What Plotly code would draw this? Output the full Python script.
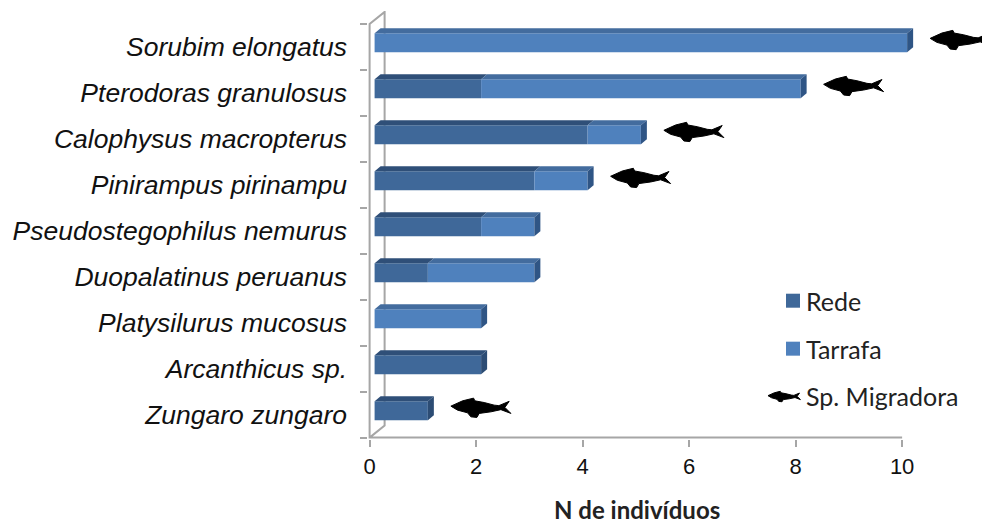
import plotly.graph_objects as go

# Catch per species, listed bottom to top along the y axis
species = ["Zungaro zungaro", "Arcanthicus sp.", "Platysilurus mucosus",
           "Duopalatinus peruanus", "Pseudostegophilus nemurus",
           "Pinirampus pirinampu", "Calophysus macropterus",
           "Pterodoras granulosus", "Sorubim elongatus"]
rede = [1, 2, 0, 1, 2, 3, 4, 2, 0]
tarrafa = [0, 0, 2, 2, 1, 1, 1, 6, 10]
migratory = [True, False, False, False, False, True, True, True, True]
x_ticks = [0, 2, 4, 6, 8, 10]
x_title = "N de indivíduos"
legend_names = ["Rede", "Tarrafa", "Sp. Migradora"]

REDE_FRONT, REDE_TOP, REDE_SIDE = "#3f6899", "#2f4f78", "#2c4c74"
TARRAFA_FRONT, TARRAFA_TOP, TARRAFA_SIDE = "#4f81bd", "#436c9e", "#2f5585"
WALL = "#a6a6a6"

W, H = 989, 525
X0_PX, PX_PER_X = 370.0, 53.2      # pixel of x=0, pixels per unit
Y0_PX, PX_PER_Y = 438.0, 46.0      # pixel of y=0, pixels per row
X_RANGE = [-0.03, 11.5]
Y_RANGE = [-0.03, 9.28]

left = X0_PX + X_RANGE[0] * PX_PER_X
right = X0_PX + X_RANGE[1] * PX_PER_X
bottom = Y0_PX - Y_RANGE[0] * PX_PER_Y
top = Y0_PX - Y_RANGE[1] * PX_PER_Y


def paper_x(px):
    return (px - left) / (right - left)


def paper_y(px):
    return (bottom - px) / (bottom - top)


# Pseudo-3D geometry, expressed in data units
DEPTH_X = 15 / PX_PER_X            # floor depth of the chart box
DEPTH_Y = 12 / PX_PER_Y
BAR_BASE = 5 / PX_PER_X            # front face starts off the front wall
BAR_LIFT = 4 / PX_PER_Y
BAR_H = 19 / PX_PER_Y
FACE_X = 6 / PX_PER_X
FACE_Y = 5 / PX_PER_Y

rows = [i + 0.5 for i in range(len(species))]
bar_y = [r + BAR_LIFT for r in rows]

# Fish silhouette in pixels, snout at the origin
FISH = [(0, 0), (11.7, 5.3), (22.7, 8), (24, 5.3), (33.3, 3.6), (43.3, 1),
        (48, 0.5), (58.3, 4.8), (54, -1.3), (60, -7.3), (50, -3.5), (40, -5.7),
        (28.3, -7.3), (26, -11.3), (20, -10.7), (16.7, -6.7), (6.7, -4)]


def fish_path(scale=1.0, lift=0.0):
    pts = [f"{x * scale:.2f},{y * scale + lift:.2f}" for x, y in FISH]
    return "M" + " L".join(pts) + " Z"


def polygon(points, color):
    path = "M" + " L".join(f"{x:.4f},{y:.4f}" for x, y in points) + " Z"
    return dict(type="path", path=path, xref="x", yref="y", fillcolor=color,
                line=dict(width=0), layer="above")


fig = go.Figure()
fig.add_bar(name=legend_names[0], y=bar_y, x=rede, base=[BAR_BASE] * len(rede),
            orientation="h", width=BAR_H, marker=dict(color=REDE_FRONT, line_width=0))
fig.add_bar(name=legend_names[1], y=bar_y, x=tarrafa,
            base=[BAR_BASE + r for r in rede],
            orientation="h", width=BAR_H, marker=dict(color=TARRAFA_FRONT, line_width=0))

# Chart box behind the bars: floor edge, front wall, slanted corners, back wall
n_rows = len(species)
box_path = (f"M{x_ticks[-1]},0 L0,0 L0,{n_rows} L{DEPTH_X:.4f},{n_rows + DEPTH_Y:.4f} "
            f"L{DEPTH_X:.4f},{DEPTH_Y:.4f} L0,0")
shapes = [dict(type="path", path=box_path, xref="x", yref="y", layer="below",
               line=dict(color=WALL, width=2))]

for y, r, t in zip(bar_y, rede, tarrafa):
    y_top = y + BAR_H / 2
    y_low = y - BAR_H / 2
    x_mid = BAR_BASE + r
    x_end = x_mid + t
    if r:
        shapes.append(polygon([(BAR_BASE, y_top), (x_mid, y_top),
                               (x_mid + FACE_X, y_top + FACE_Y),
                               (BAR_BASE + FACE_X, y_top + FACE_Y)], REDE_TOP))
    if t:
        shapes.append(polygon([(x_mid, y_top), (x_end, y_top),
                               (x_end + FACE_X, y_top + FACE_Y),
                               (x_mid + FACE_X, y_top + FACE_Y)], TARRAFA_TOP))
    side = TARRAFA_SIDE if t else REDE_SIDE
    shapes.append(polygon([(x_end, y_low), (x_end, y_top),
                           (x_end + FACE_X, y_top + FACE_Y),
                           (x_end + FACE_X, y_low + FACE_Y)], side))

# Migratory species get a fish just past the end of their bar
FISH_GAP = 23 / PX_PER_X
for row, r, t, flag in zip(rows, rede, tarrafa, migratory):
    if flag:
        shapes.append(dict(type="path", xref="x", yref="y",
                           xsizemode="pixel", ysizemode="pixel",
                           xanchor=BAR_BASE + r + t + FISH_GAP, yanchor=row,
                           path=fish_path(lift=8.5), fillcolor="#000000",
                           line=dict(width=1, color="#000000"), layer="above"))

# Legend block
LEGEND_TEXT_X = 804
legend_rows = [301, 349, 396]
for y_px, color in zip(legend_rows[:2], [REDE_FRONT, TARRAFA_FRONT]):
    shapes.append(dict(type="rect", xref="paper", yref="paper",
                       x0=paper_x(786), x1=paper_x(800),
                       y0=paper_y(y_px + 7), y1=paper_y(y_px - 7),
                       fillcolor=color, line=dict(width=0), layer="above"))
shapes.append(dict(type="path", xref="paper", yref="paper",
                   xsizemode="pixel", ysizemode="pixel",
                   xanchor=paper_x(768), yanchor=paper_y(legend_rows[2]),
                   path=fish_path(scale=0.54), fillcolor="#000000",
                   line=dict(width=1, color="#000000"), layer="above"))

annotations = [dict(text=name, xref="paper", yref="paper", showarrow=False,
                    x=paper_x(LEGEND_TEXT_X), y=paper_y(y_px),
                    xanchor="left", yanchor="middle",
                    font=dict(family="Lato", size=25, color="#222222"))
               for name, y_px in zip(legend_names, legend_rows)]
annotations.append(dict(text=f"<b>{x_title}</b>", xref="paper", yref="paper",
                        showarrow=False, x=paper_x(637), y=paper_y(510),
                        xanchor="center", yanchor="middle",
                        font=dict(family="Lato", size=24, color="#222222")))

fig.update_layout(
    width=W, height=H, showlegend=False, barmode="overlay",
    paper_bgcolor="white", plot_bgcolor="white",
    margin=dict(l=left, r=W - right, t=top, b=H - bottom, autoexpand=False),
    shapes=shapes, annotations=annotations,
    xaxis=dict(range=X_RANGE, tickvals=x_ticks, ticktext=[str(v) for v in x_ticks],
               ticks="outside", ticklen=7, tickwidth=2, tickcolor=WALL,
               ticklabelstandoff=1, showgrid=False, zeroline=False, showline=False,
               tickfont=dict(family="Liberation Sans", size=22, color="#111111")),
    yaxis=dict(range=Y_RANGE, tickvals=rows, ticktext=species,
               ticks="", ticklabelstandoff=20,
               showgrid=False, zeroline=False, showline=False,
               minor=dict(tickvals=list(range(n_rows + 1)), ticks="outside",
                          ticklen=7, tickwidth=2, tickcolor=WALL, showgrid=False),
               tickfont=dict(family="Liberation Sans", size=26.5, style="italic",
                             color="#111111")),
)

fig.write_html("out.html")
